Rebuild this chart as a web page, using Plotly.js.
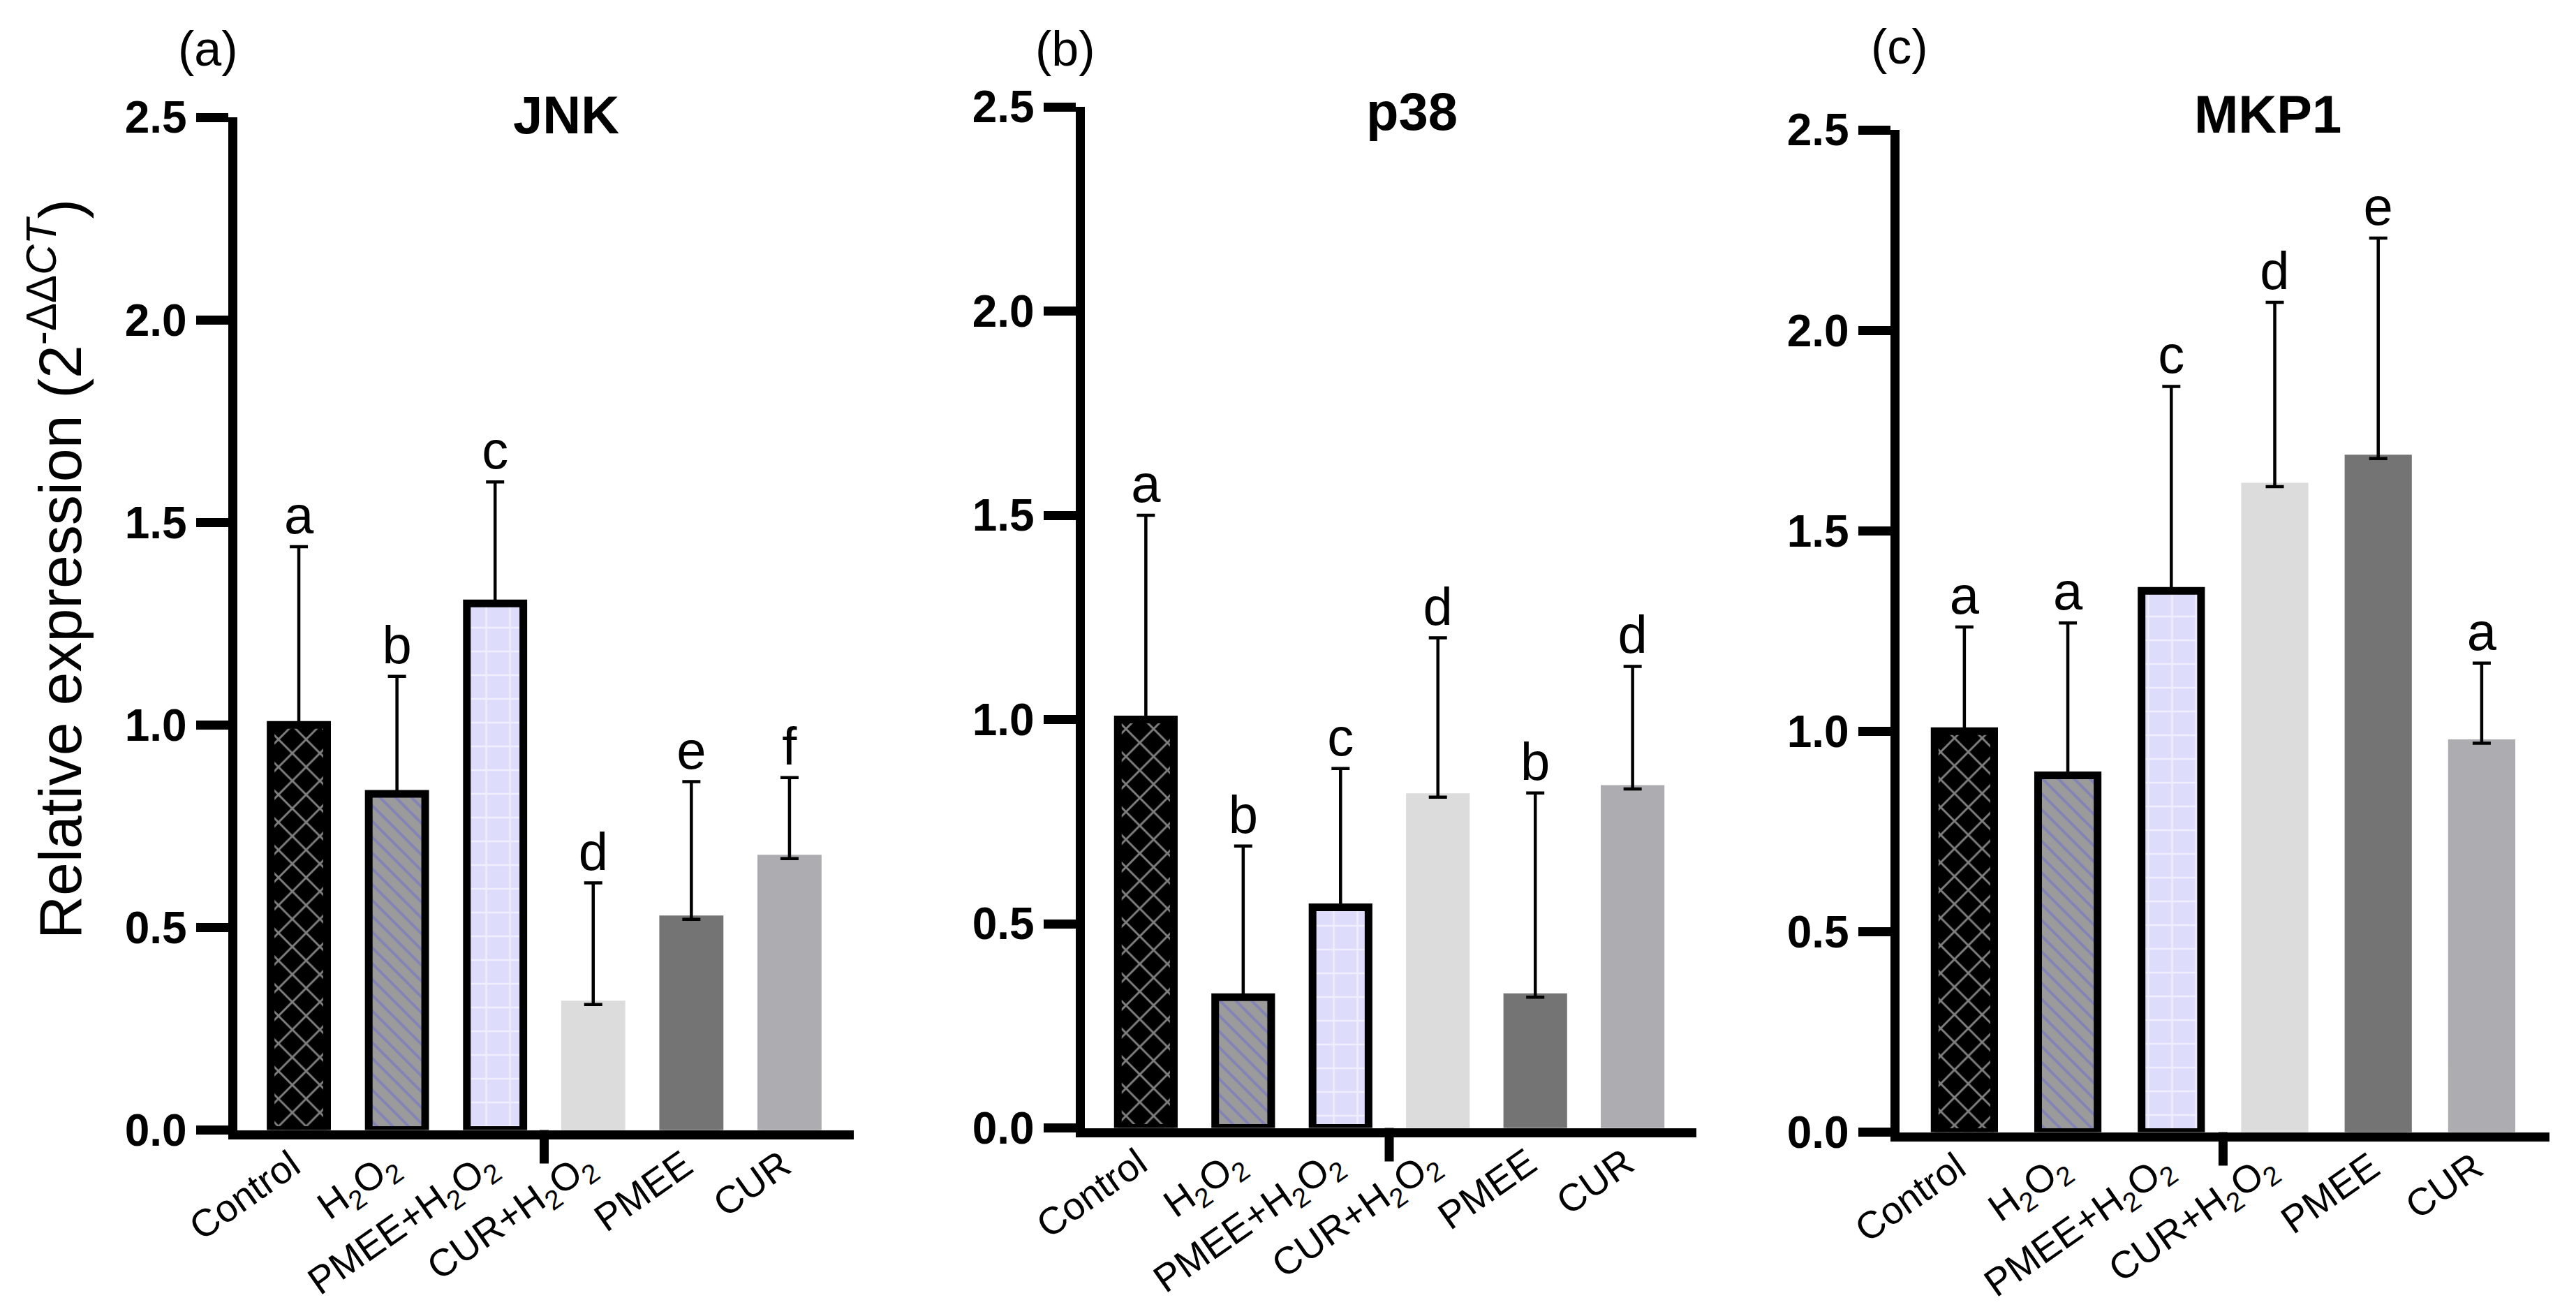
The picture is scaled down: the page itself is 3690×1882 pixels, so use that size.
<!DOCTYPE html>
<html>
<head>
<meta charset="utf-8">
<script src="https://cdn.plot.ly/plotly-3.0.1.min.js"></script>
<style>
  html, body { margin: 0; padding: 0; background: #fff; }
  #chart { width: 3690px; height: 1882px; }
</style>
</head>
<body>
<div id="chart"></div>
<script>
// ---- data ----
const groups = ['Control', 'H<sub>2</sub>O<sub>2</sub>', 'PMEE+H<sub>2</sub>O<sub>2</sub>', 'CUR+H<sub>2</sub>O<sub>2</sub>', 'PMEE', 'CUR'];

const jnkMean = [1.00, 0.83, 1.30, 0.31, 0.52, 0.67];
const jnkSD   = [0.44, 0.29, 0.30, 0.30, 0.34, 0.20];
const jnkSig  = ['a', 'b', 'c', 'd', 'e', 'f'];

const p38Mean = [1.00, 0.32, 0.54, 0.81, 0.32, 0.83];
const p38SD   = [0.50, 0.37, 0.34, 0.39, 0.50, 0.30];
const p38Sig  = ['a', 'b', 'c', 'd', 'b', 'd'];

const mkpMean = [1.00, 0.89, 1.35, 1.61, 1.68, 0.97];
const mkpSD   = [0.26, 0.38, 0.51, 0.46, 0.55, 0.20];
const mkpSig  = ['a', 'a', 'c', 'd', 'e', 'a'];

const panelTitles = ['JNK', 'p38', 'MKP1'];
const panelTags = ['(a)', '(b)', '(c)'];
const yTickVals = [0, 0.5, 1.0, 1.5, 2.0, 2.5];

// ---- styling ----
const FONT = 'Liberation Sans, Arial, Helvetica, sans-serif';
const W = 3690, H = 1882;
const barFill   = ['#000000', '#9b9b9b', '#dedcfb', '#dcdcdc', '#747474', '#adadb1'];
const barLine   = ['#000000', '#000000', '#000000', '#dcdcdc', '#747474', '#adadb1'];
const barPattern = [
  {shape: 'x',  fgcolor: '#ffffff', size: 28, solidity: 0.2,  fillmode: 'overlay'},
  {shape: '\\', fgcolor: '#6b6bd0', size: 16, solidity: 0.25, fillmode: 'overlay'},
  {shape: '+',  fgcolor: '#ffffff', size: 34, solidity: 0.14, fillmode: 'overlay'},
  null, null, null
];

// pixel geometry of each panel: y-axis line x, x-axis line y, 2.5 tick y, right end x
const geo = [
  {lx: 333,  by: 1625, ty: 168, rx: 1223},
  {lx: 1547, by: 1622, ty: 153, rx: 2430},
  {lx: 2714, by: 1628, ty: 186, rx: 3652}
];
const LW = 13;

const datasets = [
  {mean: jnkMean, sd: jnkSD, sig: jnkSig},
  {mean: p38Mean, sd: p38SD, sig: p38Sig},
  {mean: mkpMean, sd: mkpSD, sig: mkpSig}
];

const traces = [];
const layout = {
  width: W, height: H,
  margin: {l: 0, r: 0, t: 0, b: 0},
  paper_bgcolor: '#ffffff',
  plot_bgcolor: 'rgba(0,0,0,0)',
  showlegend: false,
  barmode: 'overlay',
  font: {family: FONT, color: '#000'},
  annotations: [],
  shapes: []
};

const titlePos = [[811, 165], [2022, 160], [3248, 163]];
const tagPos = [[298, 70], [1526, 70], [2721, 67]];

datasets.forEach((d, k) => {
  const n = k === 0 ? '' : String(k + 1);
  const xa = 'x' + n, ya = 'y' + n;
  const g = geo[k];
  const x0 = (g.lx + LW / 2) / W, x1 = g.rx / W;
  const yb = (g.by - LW / 2), yt = g.ty;
  const plotH = yb - yt;

  groups.forEach((grp, i) => {
    const marker = {color: barFill[i], line: {color: barLine[i], width: 11}};
    if (barPattern[i]) marker.pattern = barPattern[i];
    traces.push({
      type: 'bar',
      x: [grp], y: [d.mean[i]],
      xaxis: xa, yaxis: ya,
      width: 0.575,
      marker: marker,
      error_y: {type: 'data', symmetric: false, array: [d.sd[i]], arrayminus: [0],
                color: '#000', thickness: 4.5, width: 13},
      hoverinfo: 'skip'
    });
  });

  traces.push({
    type: 'scatter', mode: 'text',
    x: groups, y: d.mean.map((m, i) => m + d.sd[i]),
    text: d.sig, textposition: 'top center',
    textfont: {family: FONT, size: 76, color: '#000'},
    xaxis: xa, yaxis: ya, cliponaxis: false, hoverinfo: 'skip'
  });

  layout['xaxis' + n] = {
    domain: [x0, x1], anchor: ya,
    type: 'category',
    range: [-0.63, 5.655],
    showline: true, linecolor: '#000', linewidth: LW,
    ticks: '', showgrid: false, zeroline: false,
    tickangle: -35,
    ticklabelstandoff: -16,
    ticklabelshift: -10,
    tickfont: {family: FONT, size: 55, color: '#000'},
    fixedrange: true
  };
  layout['yaxis' + n] = {
    domain: [1 - yb / H, 1 - yt / H], anchor: xa,
    range: [0, 2.5],
    tickvals: yTickVals, tickformat: '.1f',
    showline: true, linecolor: '#000', linewidth: LW,
    ticks: 'outside', ticklen: 46, tickwidth: LW, tickcolor: '#000',
    showgrid: false, zeroline: false,
    tickfont: {family: FONT, size: 64, color: '#000', weight: 'bold'},
    fixedrange: true
  };

  // small tick below the x-axis between the third and fourth group
  layout.shapes.push({
    type: 'line', xref: xa, yref: ya + ' domain',
    x0: 2.5, x1: 2.5, y0: 0, y1: -48 / plotH,
    line: {color: '#000', width: LW}, layer: 'above'
  });

  layout.annotations.push({
    text: '<b>' + panelTitles[k] + '</b>', xref: 'paper', yref: 'paper',
    x: titlePos[k][0] / W, y: 1 - titlePos[k][1] / H, xanchor: 'center', yanchor: 'middle',
    showarrow: false, font: {family: FONT, size: 76, color: '#000'}
  });
  layout.annotations.push({
    text: panelTags[k], xref: 'paper', yref: 'paper',
    x: tagPos[k][0] / W, y: 1 - tagPos[k][1] / H, xanchor: 'center', yanchor: 'middle',
    showarrow: false, font: {family: FONT, size: 70, color: '#000'}
  });
});

layout.annotations.push({
  text: 'Relative expression (2<sup>-ΔΔ<i>CT</i></sup>)',
  xref: 'paper', yref: 'paper', x: 80 / W, y: 1 - 815 / H,
  xanchor: 'center', yanchor: 'middle', textangle: -90, showarrow: false,
  font: {family: FONT, size: 86, color: '#000'}
});

Plotly.newPlot('chart', traces, layout, {displayModeBar: false, staticPlot: true});
</script>
</body>
</html>
